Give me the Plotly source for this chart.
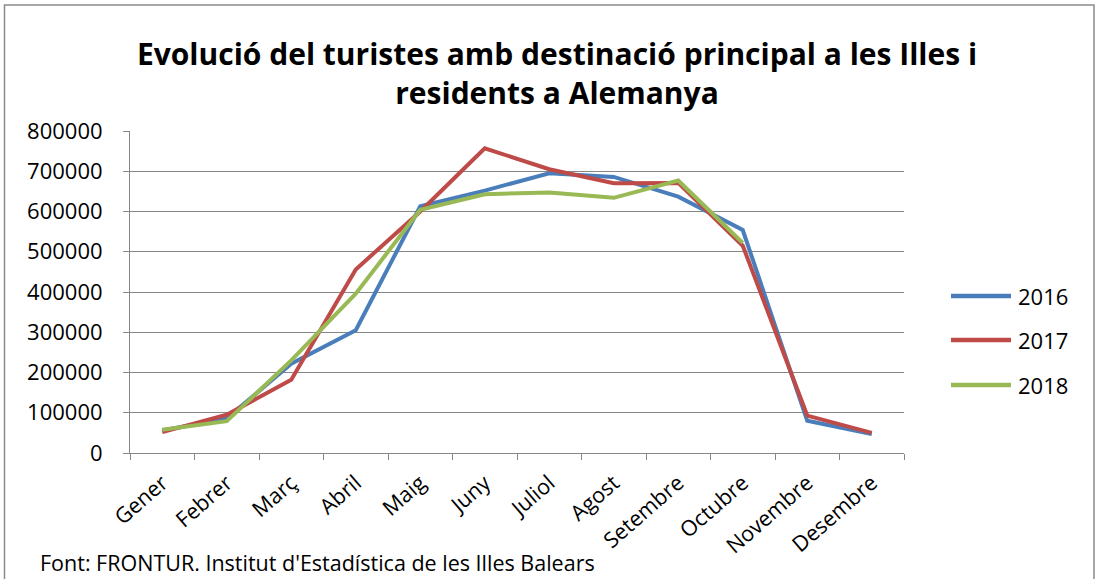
import plotly.graph_objects as go

months = ["Gener", "Febrer", "Març", "Abril", "Maig", "Juny", "Juliol",
          "Agost", "Setembre", "Octubre", "Novembre", "Desembre"]
y2016 = [56000, 86000, 222000, 305000, 613000, 652000, 695000, 686000, 637000, 554000, 80000, 47000]
y2017 = [52000, 95000, 182000, 456000, 600000, 757000, 705000, 670000, 671000, 515000, 93000, 50000]
y2018 = [58000, 79000, 230000, 396000, 604000, 643000, 647000, 634000, 677000, 522000, None, None]
series_names = ["2016", "2017", "2018"]
colors = ["#4A7EBB", "#BE4B48", "#98B954"]

FONT = "Open Sans"
W, H = 1099, 579
L, R, T, B = 130, 904, 131, 453
PW, PH = R - L, B - T

def px_x(px):
    return (px - L) / PW

def px_y(py):
    return (B - py) / PH

fig = go.Figure()
for name, ys, c in zip(series_names, [y2016, y2017, y2018], colors):
    fig.add_trace(go.Scatter(x=months, y=ys, mode="lines", name=name,
                             line=dict(color=c, width=4), showlegend=False))

shapes = []
annotations = []
# manual legend
for i, (name, c) in enumerate(zip(series_names, colors)):
    yy = px_y([296, 340, 385][i])
    shapes.append(dict(type="line", xref="paper", yref="paper",
                       x0=px_x(951), x1=px_x(1011), y0=yy, y1=yy,
                       line=dict(color=c, width=4.5)))
    annotations.append(dict(xref="paper", yref="paper", x=px_x(1016), y=yy,
                            text=name, showarrow=False, xanchor="left", yanchor="middle",
                            font=dict(family=FONT, size=22, color="#000")))

# outer border
shapes.append(dict(type="rect", xref="paper", yref="paper",
                   x0=px_x(4.5), x1=px_x(1094), y0=px_y(620), y1=px_y(5),
                   line=dict(color="#8a8a8a", width=1.5), layer="below"))

annotations.append(dict(xref="paper", yref="paper", x=px_x(38), y=px_y(562),
                        text="Font: FRONTUR. Institut d'Estadística de les Illes Balears",
                        showarrow=False, xanchor="left", yanchor="middle",
                        font=dict(family=FONT, size=21.5, color="#000")))

fig.update_layout(
    width=W, height=H,
    margin=dict(l=L, r=W - R, t=T, b=H - B),
    paper_bgcolor="white", plot_bgcolor="white",
    title=dict(text="<b>Evolució del turistes amb destinació principal a les Illes i<br>residents a Alemanya</b>",
               x=557 / W, xanchor="center", xref="container",
               y=1 - 65 / H, yanchor="middle", yref="container",
               font=dict(family=FONT, size=30, color="#000")),
    shapes=shapes, annotations=annotations,
    xaxis=dict(type="category", range=[-0.5, 11.5], tickangle=-41,
               ticks="outside", tickson="boundaries", ticklen=6, tickcolor="#868686",
               showline=True, linecolor="#868686", linewidth=1, showgrid=False,
               ticklabelstandoff=8,
               tickfont=dict(family=FONT, size=21.5, color="#000")),
    yaxis=dict(range=[0, 800000], dtick=100000, tickformat="d",
               ticks="outside", ticklen=6, tickcolor="#868686",
               showline=True, linecolor="#868686", linewidth=1,
               showgrid=True, gridcolor="#868686", gridwidth=1, zeroline=False,
               ticklabelstandoff=16,
               tickfont=dict(family=FONT, size=22, color="#000")),
)

fig.write_html("out.html", config={"displayModeBar": False},
               post_script="document.body.style.margin='0';document.body.style.overflow='hidden';")
